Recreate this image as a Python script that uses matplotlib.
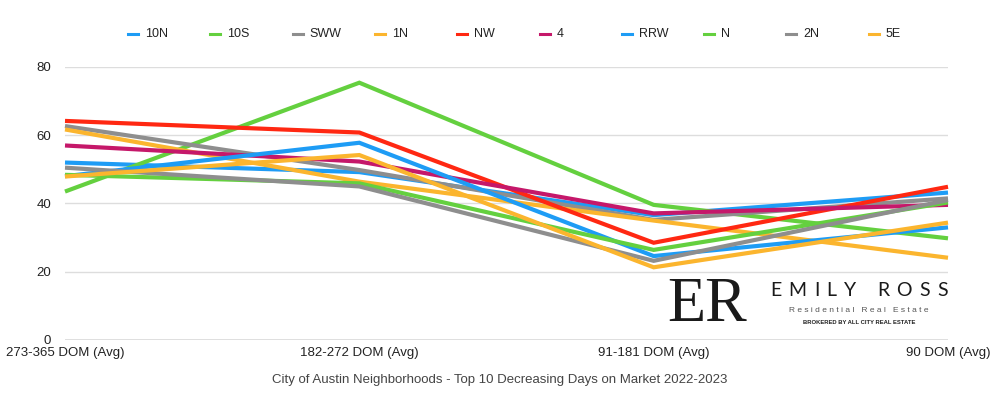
import matplotlib
matplotlib.use("Agg")
import matplotlib.pyplot as plt
from matplotlib.lines import Line2D
from matplotlib.patches import Rectangle
import numpy as np

categories = ["273-365 DOM (Avg)", "182-272 DOM (Avg)", "91-181 DOM (Avg)", "90 DOM (Avg)"]
series_names = ["10N", "10S", "SWW", "1N", "NW", "4", "RRW", "N", "2N", "5E"]
v_10N = [52.0, 49.2, 36.6, 43.2]
v_10S = [43.5, 75.4, 39.6, 29.8]
v_SWW = [62.7, 49.8, 35.2, 41.5]
v_1N = [61.7, 46.4, 35.0, 24.1]
v_NW = [64.2, 60.8, 28.5, 44.9]
v_4 = [57.0, 52.3, 37.1, 39.6]
v_RRW = [48.0, 57.8, 24.6, 33.0]
v_N = [48.4, 45.9, 26.4, 40.3]
v_2N = [50.5, 45.0, 23.2, 41.0]
v_5E = [47.9, 54.2, 21.3, 34.4]
values = [v_10N, v_10S, v_SWW, v_1N, v_NW, v_4, v_RRW, v_N, v_2N, v_5E]
yticks = [0, 20, 40, 60, 80]
title = "City of Austin Neighborhoods - Top 10 Decreasing Days on Market 2022-2023"

BLUE, GREEN, GREY, ORANGE, RED, MAG = "#1E9CF5", "#64D03F", "#8E8E8E", "#FBB52E", "#FF2812", "#C5186A"
colors = [BLUE, GREEN, GREY, ORANGE, RED, MAG, BLUE, GREEN, GREY, ORANGE]

plt.rcParams['font.family'] = ['Liberation Sans', 'DejaVu Sans']

fig = plt.figure(figsize=(10, 4.04), dpi=100)
ax = fig.add_axes([0.065, 64/404, 0.883, 273/404])
x = np.arange(len(categories))
for name, vals, c in zip(series_names, values, colors):
    ax.plot(x, vals, color=c, lw=3.0, solid_capstyle='butt', solid_joinstyle='miter',
            clip_on=False, zorder=3, label=name)

ax.set_xlim(0, len(categories) - 1)
ax.set_ylim(0, 80)
ax.set_yticks(yticks)
ax.set_yticklabels([str(t) for t in yticks], fontsize=9.5, color="#222222")
ax.set_xticks(x)
ax.set_xticklabels(categories, fontsize=9.5, color="#222222")
ax.tick_params(axis='both', length=0)
ax.tick_params(axis='y', pad=10)
ax.tick_params(axis='x', pad=5)
for s in ax.spines.values():
    s.set_visible(False)
ax.grid(axis='y', color="#DDDDDD", lw=1.0, zorder=0)
ax.axhline(0, color="#333333", lw=0.9, zorder=2)

fig.text(0.5, 1 - 380/404, title, ha='center', va='center', fontsize=9.5, color="#444444")

# legend
leg_x0 = 128
leg_dx = 82.3
leg_y = 1 - 34/404
for i, (name, c) in enumerate(zip(series_names, colors)):
    xs = (leg_x0 + i * leg_dx) / 1000
    fig.add_artist(Line2D([xs, xs + 10/1000], [leg_y, leg_y], color=c, lw=2.2,
                          transform=fig.transFigure))
    fig.text(xs + 17/1000, leg_y, name, ha='left', va='center', fontsize=9, color="#222222")

# logo
fig.add_artist(Rectangle((665/1000, 1 - 336/404), 290/1000, 60/404, transform=fig.transFigure,
                         facecolor='white', edgecolor='none', zorder=5))
fig.text(667/1000, 1 - 306/404, "ER", fontsize=45, family=['Liberation Serif', 'DejaVu Serif'],
         ha='left', va='center', color="#1a1a1a", zorder=6)

# tracked "EMILY ROSS"
fig.canvas.draw()
renderer = fig.canvas.get_renderer()
name_str = "EMILY ROSS"
x_start, x_end = 770, 948
widths = []
for ch in name_str:
    t = fig.text(0, 0, ch if ch != " " else "I", fontsize=14, family=['Lato', 'DejaVu Sans'])
    w = t.get_window_extent(renderer).width
    widths.append(w if ch != " " else w * 1.2)
    t.remove()
total = sum(widths)
gap = (x_end - x_start - total) / (len(name_str) - 1)
cx = x_start
for ch, w in zip(name_str, widths):
    if ch != " ":
        fig.text(cx/1000, 1 - 291/404, ch, fontsize=14, family=['Lato', 'DejaVu Sans'],
                 ha='left', va='center', color="#1a1a1a", zorder=6)
    cx += w + gap

fig.text(859/1000, 1 - 311/404, "R e s i d e n t i a l   R e a l   E s t a t e", fontsize=6,
         ha='center', va='center', color="#555555", zorder=6)
fig.text(859/1000, 1 - 323/404, "BROKERED BY ALL CITY REAL ESTATE", fontsize=4.2, weight='bold',
         ha='center', va='center', color="#222222", zorder=6)

fig.savefig("out.png", dpi=100)
